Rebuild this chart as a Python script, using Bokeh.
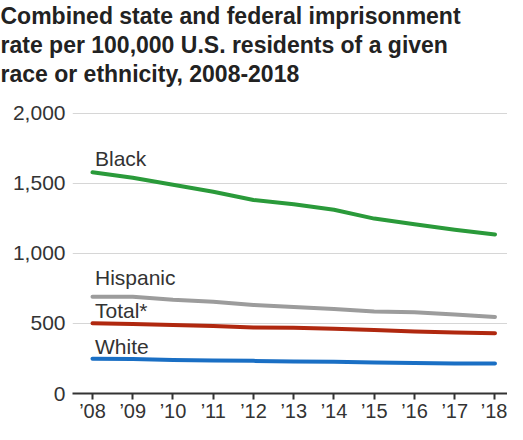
from bokeh.plotting import figure
from bokeh.models import Title, FixedTicker, NumeralTickFormatter, Range1d
from bokeh.core.properties import value
from bokeh.embed import file_html
from bokeh.resources import INLINE

years = list(range(2008, 2019))
year_labels = ["\u201908", "\u201909", "\u201910", "\u201911", "\u201912", "\u201913",
               "\u201914", "\u201915", "\u201916", "\u201917", "\u201918"]
black = [1580, 1540, 1491, 1440, 1382, 1352, 1312, 1249, 1208, 1169, 1136]
hispanic = [690, 690, 669, 655, 632, 618, 604, 585, 580, 564, 547]
total = [501, 496, 489, 482, 472, 469, 462, 453, 442, 435, 431]
white = [249, 246, 240, 236, 233, 229, 226, 222, 217, 215, 214]
y_ticks = [0, 500, 1000, 1500, 2000]
title_lines = ["Combined state and federal imprisonment",
               "rate per 100,000 U.S. residents of a given",
               "race or ethnicity, 2008-2018"]

FONT = "Liberation Sans"
TXT = "#333333"

p = figure(width=507, height=424, output_backend="svg", toolbar_location=None,
           x_range=Range1d(2007.503, 2018.311), y_range=Range1d(0, 2185),
           min_border_left=72, min_border_right=0, min_border_bottom=30,
           min_border_top=0)
p.outline_line_color = None
p.background_fill_color = "white"
p.border_fill_color = "white"

for i, line in enumerate(reversed(title_lines)):
    t = Title(text=line, text_font=FONT, text_font_size="23px", text_font_style="bold",
              text_color="#222222", align="left", offset=-72, standoff=1)
    p.add_layout(t, "above")

series = [
    ("Black", black, "#2a9a3a", -14),
    ("Hispanic", hispanic, "#9c9c9c", -19),
    ("Total*", total, "#b0280f", -12.5),
    ("White", white, "#1a6fc4", -12.5),
]
for name, vals, color, yoff in series:
    p.line(years, vals, line_color=color, line_width=4, line_join="round", line_cap="round")
    p.text(x=[years[0]], y=[vals[0]], text=[name], text_font=value(FONT),
           text_font_size="21px", text_color=TXT, text_baseline="alphabetic",
           text_align="left", x_offset=2.5, y_offset=yoff)

# axes
p.xaxis.ticker = FixedTicker(ticks=years)
p.xaxis.major_label_overrides = {y: l for y, l in zip(years, year_labels)}
p.xaxis.axis_line_color = "#333333"
p.xaxis.axis_line_width = 2
p.xaxis.major_tick_line_color = "#333333"
p.xaxis.major_tick_line_width = 2
p.xaxis.major_tick_in = 0
p.xaxis.major_tick_out = 6
p.xaxis.minor_tick_line_color = None
p.xaxis.minor_tick_out = 0
p.xaxis.major_label_standoff = 0
p.xaxis.major_label_text_font = FONT
p.xaxis.major_label_text_font_size = "20px"
p.xaxis.major_label_text_color = TXT

p.yaxis.ticker = FixedTicker(ticks=y_ticks)
p.yaxis.formatter = NumeralTickFormatter(format="0,0")
p.yaxis.axis_line_color = None
p.yaxis.major_tick_line_color = None
p.yaxis.major_tick_out = 0
p.yaxis.major_tick_in = 0
p.yaxis.minor_tick_line_color = None
p.yaxis.minor_tick_out = 0
p.yaxis.major_label_standoff = 7
p.yaxis.major_label_text_font = FONT
p.yaxis.major_label_text_font_size = "21px"
p.yaxis.major_label_text_color = TXT

p.xgrid.grid_line_color = None
p.ygrid.grid_line_color = "#d6d6d6"
p.ygrid.grid_line_width = 1

open("out.html", "w").write(file_html(p, INLINE))
